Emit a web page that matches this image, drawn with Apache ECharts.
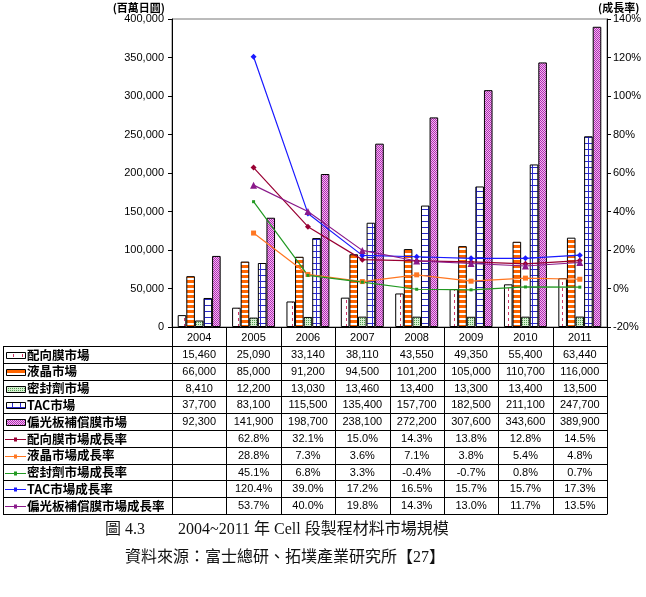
<!DOCTYPE html>
<html>
<head>
<meta charset="utf-8">
<script src="https://cdn.jsdelivr.net/npm/echarts@6/dist/echarts.min.js"></script>
<style>
  html, body { margin: 0; padding: 0; background: #fff; }
  #chart { width: 646px; height: 597px; }
</style>
</head>
<body>
<div id="chart"></div>
<script>
const years = ["2004", "2005", "2006", "2007", "2008", "2009", "2010", "2011"];

// market size (百萬日圓)
const alignFilm = [15460, 25090, 33140, 38110, 43550, 49350, 55400, 63440];
const liquidCrystal = [66000, 85000, 91200, 94500, 101200, 105000, 110700, 116000];
const sealant = [8410, 12200, 13030, 13460, 13400, 13300, 13400, 13500];
const tac = [37700, 83100, 115500, 135400, 157700, 182500, 211100, 247700];
const polarizer = [92300, 141900, 198700, 238100, 272200, 307600, 343600, 389900];

// growth rate (%)
const alignFilmGrowth = [null, 62.8, 32.1, 15.0, 14.3, 13.8, 12.8, 14.5];
const liquidCrystalGrowth = [null, 28.8, 7.3, 3.6, 7.1, 3.8, 5.4, 4.8];
const sealantGrowth = [null, 45.1, 6.8, 3.3, -0.4, -0.7, 0.8, 0.7];
const tacGrowth = [null, 120.4, 39.0, 17.2, 16.5, 15.7, 15.7, 17.3];
const polarizerGrowth = [null, 53.7, 40.0, 19.8, 14.3, 13.0, 11.7, 13.5];

const barNames = ["配向膜市場", "液晶市場", "密封劑市場", "TAC市場", "偏光板補償膜市場"];
const lineNames = ["配向膜市場成長率", "液晶市場成長率", "密封劑市場成長率", "TAC市場成長率", "偏光板補償膜市場成長率"];

const leftTicks = { min: 0, max: 400000, step: 50000 };
const rightTicks = { min: -20, max: 140, step: 20 };

const makePattern = (w, h, draw) => {
  const c = document.createElement("canvas");
  c.width = w;
  c.height = h;
  const ctx = c.getContext("2d");
  ctx.fillStyle = "#fff";
  ctx.fillRect(0, 0, w, h);
  draw(ctx);
  return { image: c, repeat: "repeat" };
};

const patterns = [
  makePattern(9, 6, (ctx) => {
    ctx.fillStyle = "#cc3366";
    ctx.fillRect(4, 0, 1, 3);
  }),
  makePattern(2, 5, (ctx) => {
    ctx.fillStyle = "#ff6600";
    ctx.fillRect(0, 0, 2, 3);
  }),
  makePattern(2, 2, (ctx) => {
    ctx.fillStyle = "#d6f0d0";
    ctx.fillRect(0, 0, 2, 2);
    ctx.fillStyle = "#4f9a4f";
    ctx.fillRect(0, 0, 1, 1);
  }),
  makePattern(8, 6, (ctx) => {
    ctx.fillStyle = "#2a2acc";
    ctx.fillRect(4, 0, 1, 6);
    ctx.fillRect(0, 5, 8, 1);
  }),
  makePattern(2, 2, (ctx) => {
    ctx.fillStyle = "#f2b8f2";
    ctx.fillRect(0, 0, 2, 2);
    ctx.fillStyle = "#b22db2";
    ctx.fillRect(0, 0, 1, 1);
    ctx.fillRect(1, 1, 1, 1);
  }),
];

const lineColors = ["#990033", "#ff7722", "#229922", "#1a1aff", "#8a1a8a"];
const lineSymbols = ["diamond", "rect", "rect", "diamond", "triangle"];
const lineSymbolSizes = [6, 5, 3, 6, 7];

const barData = [alignFilm, liquidCrystal, sealant, tac, polarizer];
const lineData = [alignFilmGrowth, liquidCrystalGrowth, sealantGrowth, tacGrowth, polarizerGrowth];

const fmtNum = (v) => v.toLocaleString("en-US");
const fmtPct = (v) => (v === null ? "" : v.toFixed(1) + "%");

// table layout under the plot
const tableLeft = 3;
const plotLeft = 172;
const plotRight = 607;
const plotTop = 19;
const axisY = 327;
const rowTop = 346;
const rowH = 16.8;
const colW = (plotRight - plotLeft) / years.length;
const numFont = "11px 'Liberation Sans', Arial, sans-serif";
const labelFont = "bold 12.5px 'Noto Sans CJK TC', sans-serif";

const graphics = [];
const px = (v) => Math.round(v) + 0.5;
const tableBottom = rowTop + rowH * 10;

for (let i = 0; i <= 10; i++) {
  const y = px(rowTop + i * rowH);
  graphics.push({
    type: "line",
    shape: { x1: tableLeft, y1: y, x2: plotRight, y2: y },
    style: { stroke: "#000", lineWidth: 1 },
    silent: true,
  });
}
graphics.push({
  type: "line",
  shape: { x1: px(tableLeft), y1: px(rowTop), x2: px(tableLeft), y2: px(tableBottom) },
  style: { stroke: "#000", lineWidth: 1 },
});
for (let i = 0; i <= years.length; i++) {
  const x = px(plotLeft + i * colW);
  graphics.push({
    type: "line",
    shape: { x1: x, y1: axisY, x2: x, y2: px(tableBottom) },
    style: { stroke: "#000", lineWidth: 1 },
  });
}

function fmtRow(f) {
  return (arr) => arr.map((v) => (v === null ? "" : f(v)));
}
const allRows = barData.map(fmtRow(fmtNum)).concat(lineData.map(fmtRow(fmtPct)));
const allNames = barNames.concat(lineNames);

allRows.forEach((row, r) => {
  const cy = rowTop + r * rowH + rowH / 2 + 0.5;
  graphics.push({
    type: "text",
    x: 27,
    y: cy,
    style: { text: allNames[r], font: labelFont, fill: "#000", align: "left", verticalAlign: "middle" },
  });
  row.forEach((txt, c) => {
    graphics.push({
      type: "text",
      x: plotLeft + c * colW + colW / 2,
      y: cy,
      style: { text: txt, font: numFont, fill: "#000", align: "center", verticalAlign: "middle" },
    });
  });
  if (r < 5) {
    graphics.push({
      type: "rect",
      shape: { x: 6.5, y: Math.round(cy - 3) + 0.5, width: 19, height: 6 },
      style: { fill: patterns[r], stroke: "#000", lineWidth: 1 },
    });
  } else {
    const k = r - 5;
    graphics.push({
      type: "line",
      shape: { x1: 5, y1: Math.round(cy) + 0.5, x2: 26, y2: Math.round(cy) + 0.5 },
      style: { stroke: lineColors[k], lineWidth: 1 },
    });
    graphics.push({
      type: "rect",
      shape: { x: 14, y: Math.round(cy) - 1.5, width: 3, height: 4 },
      style: { fill: lineColors[k] },
    });
  }
});

// axis titles and caption
graphics.push(
  {
    type: "text",
    x: 165,
    y: 8,
    style: { text: "(百萬日圓)", font: "bold 11px 'Noto Sans CJK TC', sans-serif", fill: "#000", align: "right", verticalAlign: "middle" },
  },
  {
    type: "text",
    x: 598,
    y: 8,
    style: { text: "(成長率)", font: "bold 11px 'Noto Sans CJK TC', sans-serif", fill: "#000", align: "left", verticalAlign: "middle" },
  },
  {
    type: "text",
    x: 105,
    y: 530,
    style: { text: "圖 4.3", font: "16px 'Liberation Serif', 'Noto Sans CJK TC', serif", fill: "#111", align: "left", verticalAlign: "middle" },
  },
  {
    type: "text",
    x: 178,
    y: 530,
    style: { text: "2004~2011 年 Cell 段製程材料市場規模", font: "16px 'Liberation Serif', 'Noto Sans CJK TC', serif", fill: "#111", align: "left", verticalAlign: "middle" },
  },
  {
    type: "text",
    x: 125,
    y: 558,
    style: { text: "資料來源：富士總研、拓墣產業研究所【27】", font: "16px 'Liberation Serif', 'Noto Sans CJK TC', serif", fill: "#111", align: "left", verticalAlign: "middle" },
  }
);

const chart = echarts.init(document.getElementById("chart"), null, { renderer: "canvas" });

const barSeries = barData.map((data, i) => ({
  name: barNames[i],
  type: "bar",
  data,
  barGap: "0%",
  barCategoryGap: "21%",
  itemStyle: { color: patterns[i], borderColor: "#000", borderWidth: 1 },
  silent: true,
}));

const lineSeries = lineData.map((data, i) => ({
  name: lineNames[i],
  type: "line",
  yAxisIndex: 1,
  data,
  symbol: lineSymbols[i],
  symbolSize: lineSymbolSizes[i],
  showAllSymbol: true,
  lineStyle: { color: lineColors[i], width: 1.2 },
  itemStyle: { color: lineColors[i] },
  z: 5,
  silent: true,
}));

chart.setOption({
  animation: false,
  textStyle: { fontFamily: "'Liberation Sans', Arial, sans-serif" },
  grid: {
    left: plotLeft,
    right: 646 - plotRight,
    top: plotTop,
    bottom: 597 - axisY,
    show: true,
    borderColor: "#777",
    borderWidth: 1,
  },
  xAxis: {
    type: "category",
    data: years,
    axisLine: { lineStyle: { color: "#000", width: 1 } },
    axisTick: { show: false },
    axisLabel: { color: "#000", fontSize: 11, margin: 5 },
  },
  yAxis: [
    {
      type: "value",
      min: leftTicks.min,
      max: leftTicks.max,
      interval: leftTicks.step,
      axisLine: { show: true, lineStyle: { color: "#000" } },
      axisTick: { show: true, length: 4, lineStyle: { color: "#000" } },
      splitLine: { show: false },
      axisLabel: { color: "#000", fontSize: 11, margin: 8, formatter: (v) => fmtNum(v) },
    },
    {
      type: "value",
      position: "right",
      min: rightTicks.min,
      max: rightTicks.max,
      interval: rightTicks.step,
      axisLine: { show: true, lineStyle: { color: "#000" } },
      axisTick: { show: true, length: 4, lineStyle: { color: "#000" } },
      splitLine: { show: false },
      axisLabel: { color: "#000", fontSize: 11, margin: 6, formatter: "{value}%" },
    },
  ],
  series: barSeries.concat(lineSeries),
  graphic: graphics,
});
</script>
</body>
</html>
